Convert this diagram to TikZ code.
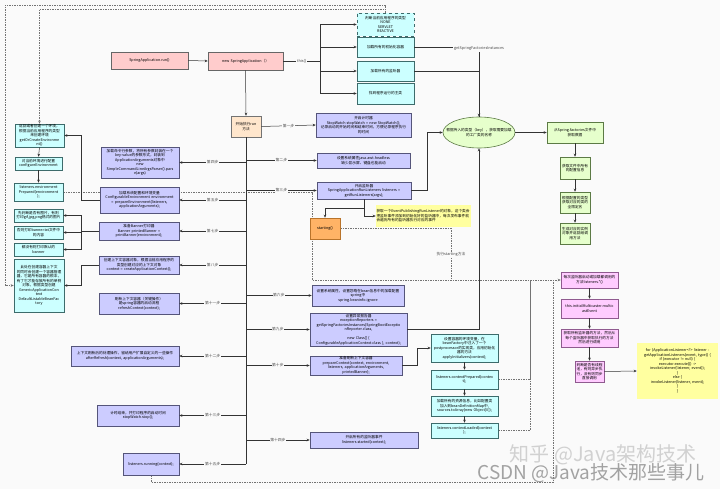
\documentclass[tikz,border=0pt]{standalone}
\usepackage{fontspec}
\setmainfont{Noto Sans CJK SC}
\usetikzlibrary{arrows.meta,shapes.geometric}
\XeTeXlinebreaklocale "zh"
\XeTeXlinebreakskip=0pt
\definecolor{bgc}{HTML}{FAFAFA}
\definecolor{pinkf}{HTML}{FFCCCC}
\definecolor{peachf}{HTML}{FFE6CC}
\definecolor{lavf}{HTML}{CCCCFF}
\definecolor{lavd}{HTML}{55557A}
\definecolor{cyanf}{HTML}{CCFFFF}
\definecolor{cyand}{HTML}{3D6B6B}
\definecolor{greenf}{HTML}{E6FFCC}
\definecolor{greend}{HTML}{5C7A45}
\definecolor{orangef}{HTML}{FFB366}
\definecolor{oranged}{HTML}{B8732A}
\definecolor{magf}{HTML}{FFCCFF}
\definecolor{magd}{HTML}{8F5A8F}
\definecolor{yelf}{HTML}{FFFFA0}
\definecolor{linec}{HTML}{333333}
\pgfdeclarelayer{back}
\pgfdeclarelayer{links}
\pgfsetlayers{back,links,main}
\newcommand\mkbox[7]{%
  \pgfmathsetmacro\bxw{#5-#3}%
  \pgfmathsetmacro\bxh{#6-#4}%
  \pgfmathsetmacro\bxtw{#5-#3-1}%
  \node[#2,minimum width=\bxw pt,minimum height=\bxh pt,text width=\bxtw pt] (#1) at ({(#3+#5)/2},{(#4+#6)/2}) {#7};}
\tikzset{
  base/.style={inner sep=0pt,align=center,font=\fontsize{3.7}{4.5}\selectfont,line width=0.6pt},
  pinkbox/.style={base,fill=pinkf,draw=black!60},
  peachbox/.style={base,fill=peachf,draw=black!55},
  lavbox/.style={base,fill=lavf,draw=lavd},
  cyanbox/.style={base,fill=cyanf,draw=cyand},
  greenbox/.style={base,fill=greenf,draw=greend},
  orangebox/.style={base,fill=orangef,draw=oranged},
  magbox/.style={base,fill=magf,draw=magd},
  notebox/.style={base,fill=yelf},
  conn/.style={draw=linec,line width=0.5pt},
  arr/.style={conn,-{Stealth[length=3pt,width=2.6pt]}},
  dlink/.style={draw=black!55,line width=0.5pt,dash pattern=on 1.5pt off 1pt},
  darr/.style={dlink,-{Stealth[length=3pt,width=2.6pt]}},
  steplbl/.style={fill=bgc,inner sep=0.6pt,font=\fontsize{3.8}{4.5}\selectfont,text=black!70},
}
\begin{document}
\begin{tikzpicture}[x=1pt,y=-1pt]
\begin{pgfonlayer}{back}
\fill[bgc] (0,0) rectangle (720,489);
\end{pgfonlayer}
\useasboundingbox (0,0) rectangle (720,489);

% watermarks
\node[font=\fontsize{20}{20}\selectfont,text=black!18] (wm1) at (603,455) {知乎 @Java架构技术};

% top row
\mkbox{sarun}{pinkbox}{111}{52}{188}{69}{SpringApplication.run()}
\mkbox{newsa}{pinkbox}{208}{52}{283}{70}{new SpringApplication（）}
\mkbox{t1}{cyanbox,dashed}{357}{13}{414}{36}{判断当前应用程序的类型\\NONE\\SERVLET\\REACTIVE}
\mkbox{t2}{cyanbox}{357}{37}{414}{57}{加载所有的初始化容器}
\mkbox{t3}{cyanbox}{357}{61}{414}{81}{加载所有的监听器}
\mkbox{t4}{cyanbox}{357}{83}{414}{104}{找到程序运行的主类}

\node[ellipse,draw=greend,fill=greenf,line width=0.6pt,minimum width=72pt,minimum height=31pt,inner sep=0pt,
  label={[font=\fontsize{3.7}{4.5}\selectfont,align=center]center:根据传入的类型（key），获取需要加载\\的工厂类的名称}] (ell) at (479,132.5) {};
\mkbox{g1}{greenbox}{547}{122}{603}{143}{从Spring.factories文件中\\获取数据}
\mkbox{g2}{greenbox}{560}{157}{590}{179}{获取文件中所有\\的配置信息}
\mkbox{g3}{greenbox}{560}{192}{590}{213}{根据配置的类型\\获取对应的类的\\全限定名}
\mkbox{g4}{greenbox}{560}{223}{590}{244}{生成对应的实例\\对象并返回给调\\用方法}

\mkbox{start}{peachbox}{231}{116}{261}{137}{开始执行run\\方法}

% right branches
\mkbox{s1}{lavbox}{316}{113}{411}{137}{开启计时器\\StopWatch stopWatch = new StopWatch();\\记录启动的开始时间和结束时间，方便记录程序执行\\的时间}
\mkbox{s2}{lavbox}{317}{153}{410}{168}{设置系统属性java.awt.headless\\缺少显示屏、键盘也能启动}
\mkbox{s3}{lavbox}{317}{182}{411}{199}{开启监听器\\SpringApplicationRunListeners listeners =\\getRunListeners(args);}
\mkbox{starting}{orangebox}{310}{218}{340}{239}{starting()}
\mkbox{note1}{notebox,align=left}{376}{205}{471}{227}{获取一个EventPublishingRunListener的对象，这个类会把监听事件添加到初始化好的监听器中，每次发布事件就会遍历所有的监听器执行对应的事件}
\mkbox{s6}{lavbox}{312}{285}{404}{306}{设置系统属性，设置忽略在bean信息中的加载配置\\spring中\\spring.beaninfo.ignore}
\mkbox{s9}{lavbox}{310}{313}{407}{346}{设置异常报告器\\exceptionReporters =\\getSpringFactoriesInstances(SpringBootExceptio\\nReporter.class,\\[4.5pt]new Class[] \{\\ConfigurableApplicationContext.class \}, context);}
\mkbox{s10}{lavbox}{310}{356}{402}{375}{准备刷新上下文容器\\prepareContext(context, environment,\\listeners, applicationArguments,\\printedBanner);}
\mkbox{s14}{lavbox}{310}{432}{418}{448}{开启所有的监听器事件\\listeners.started(context);}

\mkbox{r1}{cyanbox}{431}{334}{498}{362}{设置容器的环境变量，在\\beanFactory中注入了一个\\postprocessor的实现类，应用初始化\\器的方法\\applyInitializers(context);}
\mkbox{r2}{cyanbox}{431}{370}{498}{389}{listeners.contextPrepared(contex\\t);}
\mkbox{r3}{cyanbox}{431}{396}{498}{416}{加载所有的资源信息，比如配置类\\加入到beanDefinitionMap中,\\sources.toArray(new Object[0]);}
\mkbox{r4}{cyanbox}{431}{423}{498}{438}{listeners.contextLoaded(context\\);}

% left branches
\mkbox{s4}{lavbox}{101}{147}{179}{178}{加载命令行参数，将所有参数封装在一个\\key-value的参数形式，封装到\\ApplicationArguments对象中\\new\\SimpleCommandLineArgsParser().pars\\e(args)}
\mkbox{s5}{lavbox}{100}{187}{179}{213}{加载系统配置和环境变量\\ConfigurableEnvironment environment\\= prepareEnvironment(listeners,\\applicationArguments);}
\mkbox{s7}{lavbox}{99}{222}{179}{240}{准备Banner打印器\\Banner printedBanner =\\printBanner(environment);}
\mkbox{s8}{lavbox}{99}{256}{179}{274}{创建上下文容器对象，根据当前应用程序的\\类型创建对应的上下文对象\\context = createApplicationContext();}
\mkbox{s11}{lavbox}{99}{293}{179}{314}{刷新上下文容器（关键操作）\\是spring容器的启动流程\\refreshContext(context);}
\mkbox{s12}{lavbox}{71}{346}{179}{366}{上下文刷新后的处理操作，留给用户扩展自定义的一些操作\\afterRefresh(context, applicationArguments);}
\mkbox{s13}{lavbox}{97}{405}{179}{426}{计时结束，并打印程序的启动时间\\stopWatch.stop();}
\mkbox{s15}{lavbox}{123}{453}{179}{475}{listeners.running(context);}

\mkbox{e1}{cyanbox}{15}{124}{64}{147}{返回或者创建一个环境，\\根据当前应用程序的类型\\来创建环境\\getOrCreateEnvironme\\nt()}
\mkbox{e2}{cyanbox}{15}{157}{62}{170}{对当前环境进行配置\\configureEnvironment}
\mkbox{e3}{cyanbox}{14}{183}{63}{201}{listeners.environment\\Prepared(environment\\);}
\mkbox{b1}{cyanbox}{14}{209}{63}{222}{先判断是否有图片，有则\\打印gif,jpg,png格式的图片}
\mkbox{b2}{cyanbox}{14}{226}{63}{239}{否则打印banner.txt文件中\\的内容}
\mkbox{b3}{cyanbox}{14}{243}{63}{256}{都没有则打印默认的\\banner}
\mkbox{c0}{cyanbox}{14}{259}{64}{312}{此处在创建容器上下文\\的同时会创建一个容器管理\\器，它是所有容器的根本，\\有了它才能存放所有的单例\\对象，根据类型创建\\GenericApplicationCon\\text\\DefaultListableBeanFac\\tory}

% event boxes
\mkbox{p1}{magbox}{561}{272}{618}{288}{每次监听器启动或加载都调用的\\方法listeners.*()}
\mkbox{p2}{magbox}{561}{299}{618}{318}{this.initialMulticaster.multic\\astEvent}
\mkbox{p3}{magbox}{561}{329}{618}{347}{获取所有监听器的方法，然后从\\每个监听器中获取执行的方法\\然后进行调用}
\mkbox{p4}{magbox}{575}{361}{604}{382}{判断是否有线程\\池，有则异步执\\行，没有则同步\\直接调用}
\mkbox{code}{notebox}{637}{343}{718}{399}{for (ApplicationListener<?> listener :\\getApplicationListeners(event, type)) \{\\if (executor != null) \{\\executor.execute(() ->\\invokeListener(listener, event));\\\}\\else \{\\invokeListener(listener, event);\\\}\\\}}

\coordinate (br) at (320,61);
\coordinate (tl) at (5,5);
\coordinate (jx) at (312,280);
\coordinate (j1) at (451,280);
\coordinate (j2) at (530,280);
\coordinate (j3) at (553,280);

\begin{pgfonlayer}{links}
% dashed links
\draw[darr] (t1.north) |- (tl) |- (c0.west);
\draw[darr] (t1.north) -- ++(0,-3.5) -| (e1.north);
\draw[darr] (e3.east) -- (e3.east -| jx) -- (jx) -- (p1.west);
\draw[dlink] (starting.east) -| (j1) node[steplbl,pos=0.75] {执行starting方法};
\draw[dlink] (r2.east) -| (j2);
\draw[dlink] (r4.east) -| (j2);
\draw[dlink] (s15.south) -- ++(0,7) -| (j3);
\end{pgfonlayer}

% solid connectors
\draw[arr] (sarun.east) -- (newsa.west);
\draw[conn] (newsa.east) -- (br) node[steplbl,midway] {this()};
\foreach \t in {t1,t2,t3,t4} \draw[arr] (br) |- (\t.west);
\draw[arr] (t2.east) -| (ell.north);
\node[steplbl] (gsfi) at (479,49) {getSpringFactoriesInstances};
\draw[conn] (t3.east) -| (ell.north);
\draw[arr] (s3.east) -- ++(16,0) |- (ell.west);
\draw[arr] (s9.east) -| (ell.south);
\draw[arr] (ell.east) -- (g1.west);
\draw[arr] (g1.south) -- (g2.north);
\draw[arr] (g2.south) -- (g3.north);
\draw[arr] (g3.south) -- (g4.north);

\draw[arr] (newsa.south) -- (start.north);
\draw[arr] (start.east) -- (s1.west) node[steplbl,midway] {第一步};
\draw[conn] (start.south) -- (s15.east -| start.south);
\draw[arr] (s2.west -| start.south) -- (s2.west) node[steplbl,midway] {第二步};
\draw[arr] (s3.west -| start.south) -- (s3.west) node[steplbl,midway] {第三步};
\draw[arr] (s4.east -| start.south) -- (s4.east) node[steplbl,midway] {第四步};
\draw[arr] (s5.east -| start.south) -- (s5.east) node[steplbl,midway] {第五步};
\draw[arr] (s6.west -| start.south) -- (s6.west) node[steplbl,midway] {第六步};
\draw[arr] (s7.east -| start.south) -- (s7.east) node[steplbl,midway] {第七步};
\draw[arr] (s8.east -| start.south) -- (s8.east) node[steplbl,midway] {第八步};
\draw[arr] (s9.west -| start.south) -- (s9.west) node[steplbl,midway] {第九步};
\draw[arr] (s10.west -| start.south) -- (s10.west) node[steplbl,midway] {第十步};
\draw[arr] (s11.east -| start.south) -- (s11.east) node[steplbl,midway] {第十一步};
\draw[arr] (s12.east -| start.south) -- (s12.east) node[steplbl,midway] {第十二步};
\draw[arr] (s13.east -| start.south) -- (s13.east) node[steplbl,midway] {第十三步};
\draw[arr] (s14.west -| start.south) -- (s14.west) node[steplbl,midway] {第十四步};
\draw[arr] (s15.east -| start.south) -- (s15.east) node[steplbl,midway] {第十五步};

\draw[arr] (s3.south) -- ++(0,9) -| (starting.north);
\draw[arr] (s3.south) |- (note1.west);

\draw[arr] (s5.west) -- ++(-18,0) |- (e1.east);
\draw[arr] (e1.south) -- (e2.north);
\draw[arr] (e2.south) -- (e3.north);
\draw[arr] (s7.west) -- ++(-17,0) |- (b1.east);
\draw[arr] (s7.west) -- ++(-17,0) |- (b2.east);
\draw[arr] (s7.west) -- ++(-17,0) |- (b3.east);
\draw[arr] (s8.west) -- ++(-17,0) |- (c0.east);

\draw[arr] (s10.east) -- ++(15,0) |- (r1.west);
\draw[arr] (r1.south) -- (r2.north);
\draw[arr] (r2.south) -- (r3.north);
\draw[arr] (r3.south) -- (r4.north);

\draw[arr] (p1.south) -- (p2.north);
\draw[arr] (p2.south) -- (p3.north);
\draw[arr] (p3.south) -- (p4.north);
\draw[arr] (p4.east) -- (code.west);

\node[font=\fontsize{19}{19}\selectfont,text=black!45,opacity=0.8] (wm2) at (591,473) {CSDN @Java技术那些事儿};
\end{tikzpicture}
\end{document}
